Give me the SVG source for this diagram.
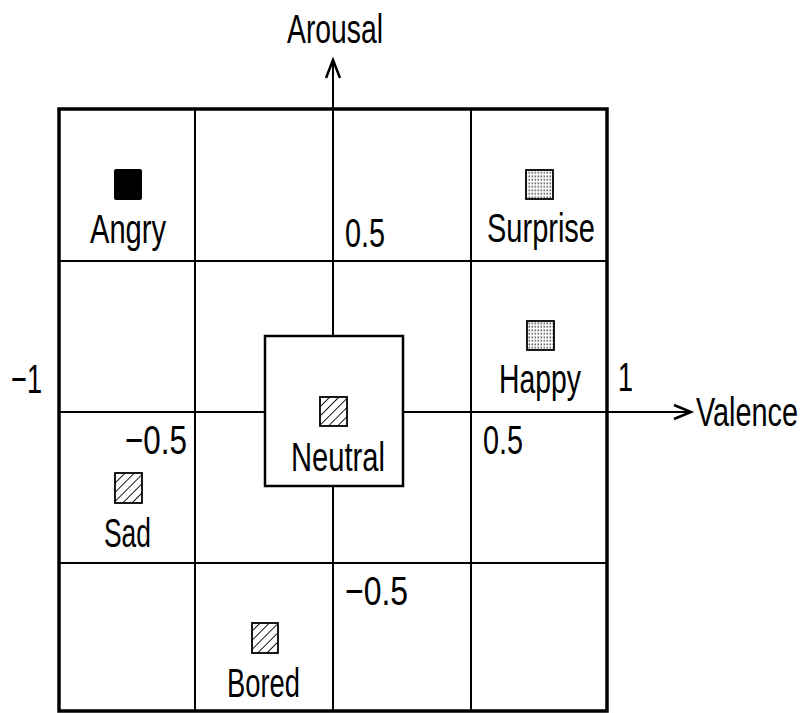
<svg xmlns="http://www.w3.org/2000/svg" width="808" height="713" viewBox="0 0 808 713">
<style>
text{font-family:"Liberation Sans",Arial,sans-serif;font-size:41px;fill:#000}
text.sm{font-size:29px}
.grid{stroke:#000;stroke-width:2;fill:none}
.frame{stroke:#000;stroke-width:3.5;fill:none}
.axis{stroke:#000;stroke-width:2;fill:none}
.head{stroke:#000;stroke-width:2.5;fill:none}
.mk{stroke:#000;stroke-width:1.8}
</style>
<defs>
<pattern id="hatch" width="6.5" height="6.5" patternUnits="userSpaceOnUse" patternTransform="rotate(45)">
<rect width="6.5" height="6.5" fill="#fff"/>
<line x1="0" y1="0" x2="0" y2="6.5" stroke="#000" stroke-width="1.8"/>
</pattern>
<pattern id="dots" width="3" height="3.5" patternUnits="userSpaceOnUse">
<rect width="3" height="3.5" fill="#fff"/>
<rect x="0.5" y="0.5" width="1.6" height="1.6" fill="#555"/>
</pattern>
</defs>
<rect width="808" height="713" fill="#fff"/>
<g id="grid">
<rect class="frame" x="59" y="109" width="548" height="602"/>
<line class="grid" x1="195" y1="109" x2="195" y2="711"/>
<line class="grid" x1="471" y1="109" x2="471" y2="711"/>
<line class="grid" x1="59" y1="261" x2="607" y2="261"/>
<line class="grid" x1="59" y1="563" x2="607" y2="563"/>
</g>
<g id="connectors">
<line class="axis" x1="333" y1="60" x2="333" y2="711"/>
<polyline class="head" points="326,78 333,60 340,78"/>
<line class="axis" x1="59" y1="412" x2="690" y2="412"/>
<polyline class="head" points="674,405 691,412 674,419"/>
</g>
<g id="axis-labels">
<text x="287" y="43" textLength="96" lengthAdjust="spacingAndGlyphs">Arousal</text>
<g transform="translate(696,426) scale(1,1.4)"><text class="sm" x="0" y="0" textLength="102" lengthAdjust="spacingAndGlyphs">Valence</text></g>
<text x="345" y="247" textLength="40" lengthAdjust="spacingAndGlyphs">0.5</text>
<text x="483" y="454" textLength="40" lengthAdjust="spacingAndGlyphs">0.5</text>
<text x="125" y="454" textLength="62" lengthAdjust="spacingAndGlyphs">−0.5</text>
<text x="345" y="605" textLength="63" lengthAdjust="spacingAndGlyphs">−0.5</text>
<text x="11" y="393" textLength="31" lengthAdjust="spacingAndGlyphs">−1</text>
<text x="618" y="391" textLength="15" lengthAdjust="spacingAndGlyphs">1</text>
</g>
<g id="neutral">
<rect x="265" y="336" width="138" height="150" fill="#fff" stroke="#000" stroke-width="2.5"/>
<rect class="mk" x="320" y="397" width="27" height="29" fill="url(#hatch)"/>
<text x="291" y="471" textLength="94" lengthAdjust="spacingAndGlyphs">Neutral</text>
</g>
<g id="angry">
<rect x="114" y="169" width="28" height="31" rx="2" fill="#000"/>
<text x="90" y="243" textLength="76" lengthAdjust="spacingAndGlyphs">Angry</text>
</g>
<g id="surprise">
<rect class="mk" x="526" y="170" width="27" height="29" fill="url(#dots)"/>
<text x="487" y="242" textLength="108" lengthAdjust="spacingAndGlyphs">Surprise</text>
</g>
<g id="happy">
<rect class="mk" x="527" y="321" width="27" height="29" fill="url(#dots)"/>
<text x="499" y="393" textLength="82" lengthAdjust="spacingAndGlyphs">Happy</text>
</g>
<g id="sad">
<rect class="mk" x="115" y="473" width="27" height="30" fill="url(#hatch)"/>
<text x="104" y="547" textLength="47" lengthAdjust="spacingAndGlyphs">Sad</text>
</g>
<g id="bored">
<rect class="mk" x="252" y="623" width="26" height="30" fill="url(#hatch)"/>
<text x="227" y="697" textLength="73" lengthAdjust="spacingAndGlyphs">Bored</text>
</g>
</svg>
